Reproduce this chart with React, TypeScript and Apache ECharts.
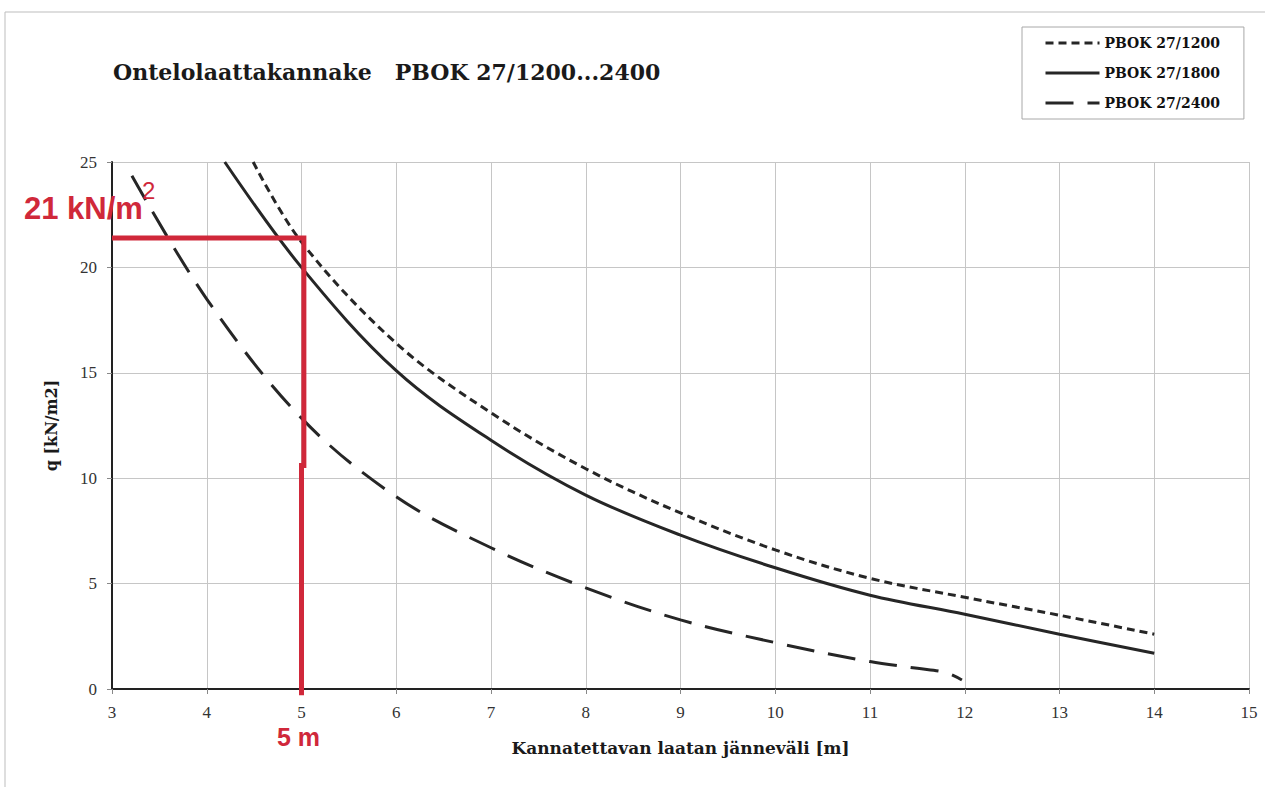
import React, { useEffect, useRef } from "react";
import * as echarts from "echarts";

// ---- data ----
const span1200 = [4.49, 5, 6, 7, 8, 9, 10, 11, 12, 13, 14];
const load1200 = [25, 21.2, 16.4, 13.1, 10.45, 8.35, 6.6, 5.25, 4.35, 3.5, 2.6];

const span1800 = [4.19, 5, 6, 7, 8, 9, 10, 11, 12, 13, 14];
const load1800 = [25, 20.0, 15.1, 11.8, 9.2, 7.3, 5.75, 4.45, 3.55, 2.6, 1.7];

const span2400 = [3.21, 4, 5, 6, 7, 8, 9, 10, 11, 11.5, 11.8, 11.97];
const load2400 = [24.35, 18.5, 12.85, 9.12, 6.7, 4.8, 3.28, 2.2, 1.3, 0.98, 0.78, 0.43];

const refSpan = [3, 5.025, 5.025, 5.0, 5.0];
const refLoad = [21.4, 21.4, 10.6, 10.6, -0.3];

const seriesNames = ["PBOK 27/1200", "PBOK 27/1800", "PBOK 27/2400"];
const titleText = "Ontelolaattakannake   PBOK 27/1200...2400";
const xName = "Kannatettavan laatan jänneväli [m]";
const yName = "q [kN/m2]";
const loadNote = "21 kN/m";
const loadNoteSup = "2";
const spanNote = "5 m";

const pairs = (xs: number[], ys: number[]) => xs.map((x, i) => [x, ys[i]]);

const LINE = "#262626";
const RED = "#d0283a";
const SERIF = "'DejaVu Serif', serif";
const TSERIF = "'Liberation Serif', 'Times New Roman', serif";

export default function App() {
  const ref = useRef<HTMLDivElement>(null);
  useEffect(() => {
    if (!ref.current) return;
    const chart = echarts.init(ref.current, null, { renderer: "svg" });
    const curve = (name: string, xs: number[], ys: number[], type: any) => ({
      name,
      type: "line",
      data: pairs(xs, ys),
      smooth: 0.35,
      symbol: "none",
      showSymbol: false,
      lineStyle: { color: LINE, width: 3, type },
      itemStyle: { color: LINE },
    });
    const option: any = {
      animation: false,
      backgroundColor: "#ffffff",
      title: {
        text: titleText,
        left: 113,
        top: 61,
        padding: 0,
        textStyle: { fontFamily: SERIF, fontWeight: "bold", fontSize: 22, color: "#1a1a1a" },
      },
      legend: {
        orient: "vertical",
        left: 1022,
        top: 27,
        padding: [9, 24, 9, 22],
        itemWidth: 54,
        itemHeight: 14,
        itemGap: 16,
        borderColor: "#a8a8a8",
        borderWidth: 1,
        data: seriesNames,
        itemStyle: { color: "rgba(0,0,0,0)", borderWidth: 0, opacity: 0 },
        lineStyle: { width: 3 },
        textStyle: { fontFamily: SERIF, fontWeight: "bold", fontSize: 14, color: "#111" },
      },
      grid: { left: 112, top: 162, right: 16, bottom: 98 },
      xAxis: {
        type: "value",
        min: 3,
        max: 15,
        interval: 1,
        name: xName,
        nameLocation: "middle",
        nameGap: 50,
        nameTextStyle: { fontFamily: SERIF, fontWeight: "bold", fontSize: 17, color: "#1a1a1a" },
        axisLine: { show: true, onZero: false, lineStyle: { color: "#222", width: 2 } },
        axisTick: { show: true, length: 5, lineStyle: { color: "#888" } },
        axisLabel: { fontFamily: TSERIF, fontSize: 17, color: "#333", margin: 15 },
        splitLine: { show: true, lineStyle: { color: "#c6c6c6", width: 1 } },
      },
      yAxis: {
        type: "value",
        min: 0,
        max: 25,
        interval: 5,
        name: yName,
        nameLocation: "middle",
        nameGap: 53,
        nameRotate: 90,
        nameTextStyle: { fontFamily: SERIF, fontWeight: "bold", fontSize: 16, color: "#1a1a1a" },
        axisLine: { show: true, lineStyle: { color: "#222", width: 2 } },
        axisTick: { show: true, length: 5, lineStyle: { color: "#888" } },
        axisLabel: { fontFamily: TSERIF, fontSize: 17, color: "#333", margin: 15 },
        splitLine: { show: true, lineStyle: { color: "#c6c6c6", width: 1 } },
      },
      graphic: [
        {
          type: "rect",
          silent: true,
          z: -1,
          shape: { x: 5, y: 12, width: 1300, height: 820 },
          style: { fill: "none", stroke: "#bdbdbd", lineWidth: 1 },
        },
        {
          type: "text",
          x: 24,
          y: 208,
          z: 100,
          style: {
            text: loadNote,
            font: "bold 31px 'Liberation Sans', Arial, sans-serif",
            fill: RED,
            verticalAlign: "middle",
            align: "left",
          },
        },
        {
          type: "text",
          x: 142,
          y: 190,
          z: 100,
          style: {
            text: loadNoteSup,
            font: "24px 'Liberation Sans', Arial, sans-serif",
            fill: RED,
            verticalAlign: "middle",
            align: "left",
          },
        },
        {
          type: "text",
          x: 277,
          y: 737,
          z: 100,
          style: {
            text: spanNote,
            font: "bold 25px 'Liberation Sans', Arial, sans-serif",
            fill: RED,
            verticalAlign: "middle",
            align: "left",
          },
        },
      ],
      series: [
        curve(seriesNames[0], span1200, load1200, [8, 5]),
        curve(seriesNames[1], span1800, load1800, "solid"),
        curve(seriesNames[2], span2400, load2400, [28, 14]),
        {
          name: "ref",
          type: "line",
          data: pairs(refSpan, refLoad),
          smooth: false,
          symbol: "none",
          showSymbol: false,
          clip: false,
          z: 5,
          lineStyle: { color: RED, width: 5, join: "miter", cap: "butt" },
          itemStyle: { color: RED },
        },
      ],
    };
    chart.setOption(option);
    return () => chart.dispose();
  }, []);
  return (
    <div
      ref={ref}
      style={{ position: "fixed", left: 0, top: 0, width: 1265, height: 787, background: "#fff" }}
    />
  );
}
